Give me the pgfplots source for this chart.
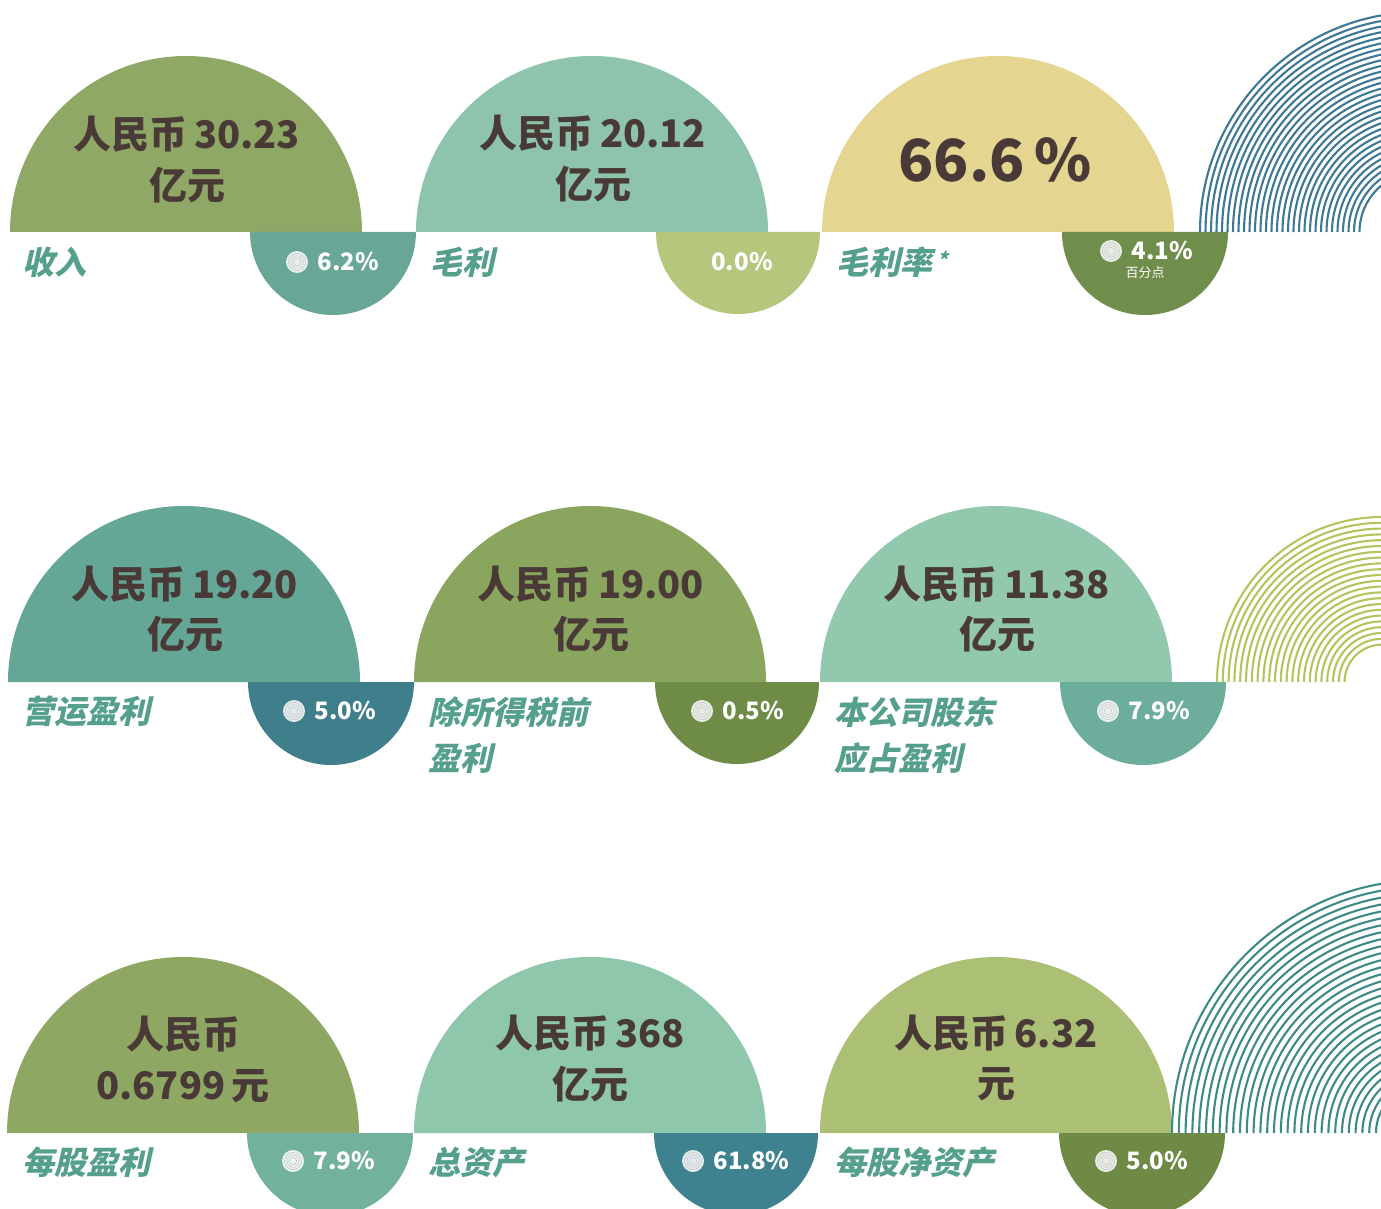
\documentclass[border=0pt]{standalone}
\usepackage{pgfplots}
\pgfplotsset{compat=1.18}
\usepackage{fontspec}
\newfontfamily\cjk{Noto Sans CJK SC}
\newfontfamily\cjkit{Noto Sans CJK SC}[FakeSlant=0.22]
\definecolor{txt}{HTML}{4A3A37}
\definecolor{lab}{HTML}{55A08C}
\definecolor{oliveA}{HTML}{8FA866}
\definecolor{mintA}{HTML}{8DC4AB}
\definecolor{yellowA}{HTML}{E4D690}
\definecolor{tealA}{HTML}{68A796}
\definecolor{lightoliveA}{HTML}{B5C67D}
\definecolor{darkoliveA}{HTML}{6F8D4B}
\definecolor{tealB}{HTML}{64A796}
\definecolor{oliveB}{HTML}{8AA65E}
\definecolor{mintB}{HTML}{91C8AE}
\definecolor{darktealB}{HTML}{3F7F8C}
\definecolor{darkoliveB}{HTML}{6E8C45}
\definecolor{tealsB}{HTML}{6DAD9C}
\definecolor{oliveC}{HTML}{8EA864}
\definecolor{mintC}{HTML}{8EC7AC}
\definecolor{ygC}{HTML}{ABC074}
\definecolor{tealC}{HTML}{72B19E}
\definecolor{darktealC}{HTML}{3E8290}
\definecolor{darkoliveC}{HTML}{6E8A44}
\definecolor{arcA}{HTML}{3D7896}
\definecolor{arcB}{HTML}{B5C45E}
\definecolor{arcC}{HTML}{3D8A86}
% half discs: centre x, baseline y, radius (px), colour
\newcommand\halfup[4]{\fill[#4] (axis cs:{#1-#3},#2) arc[start angle=180,end angle=0,radius={#3*0.5pt}] -- cycle;}
\newcommand\halfdown[4]{\fill[#4] (axis cs:{#1-#3},#2) arc[start angle=180,end angle=360,radius={#3*0.5pt}] -- cycle;}
\newcommand\icon[2]{\fill[white,opacity=0.85] (axis cs:#1,#2) circle[radius=5.5pt];
  \draw[black!20,line width=0.35pt] (axis cs:#1,#2) circle[radius=4.3pt] (axis cs:#1,#2) circle[radius=3.1pt] (axis cs:#1,#2) circle[radius=1.9pt];}
\newcommand\pct[3]{\icon{#1}{#2}\node[anchor=west,text=white,font=\cjk\bfseries\fontsize{12}{12}\selectfont,inner sep=0pt] at (axis cs:{#1+20},#2) {#3};}
\newcommand\bigtxt[3]{\node[text=txt,font=\cjk\bfseries\fontsize{19}{19}\selectfont,inner sep=0pt] at (axis cs:#1,#2) {#3};}
\newcommand\lbl[3]{\node[anchor=west,text=lab,font=\cjkit\bfseries\fontsize{16}{16}\selectfont,inner sep=0pt] at (axis cs:#1,#2) {#3};}
\begin{document}
\begin{tikzpicture}
\begin{axis}[
  scale only axis, width=690.5pt, height=604.5pt,
  xmin=0, xmax=1381, ymin=0, ymax=1209, y dir=reverse,
  hide axis, clip=true]
\fill[white] (axis cs:0,0) rectangle (axis cs:1381,1209);
% ---- row 1
\halfup{186}{232}{176}{oliveA}
\halfup{592}{232}{176}{mintA}
\halfup{998}{232}{176}{yellowA}
\halfdown{333}{232}{83}{tealA}
\halfdown{738}{232}{82}{lightoliveA}
\halfdown{1145}{232}{83}{darkoliveA}
\pgfplotsinvokeforeach{0,...,29}{\draw[arcA,line width=1.05pt] (axis cs:{1420-(220-5.5*#1)},232) arc[start angle=180,end angle=0,radius={(220-5.5*#1)*0.5pt}];}
\bigtxt{187}{134}{人民币\,30.23}
\bigtxt{187}{185}{亿元}
\bigtxt{593}{133}{人民币\,20.12}
\bigtxt{593}{184}{亿元}
\node[text=txt,font=\cjk\bfseries\fontsize{29}{29}\selectfont,inner sep=0pt] at (axis cs:995,160) {66.6\,\%};
\lbl{22}{262}{收入}
\lbl{430}{262}{毛利}
\lbl{836}{262}{毛利率\,\raisebox{0.2em}{\fontsize{10}{10}\selectfont *}}
\pct{297}{262}{6.2\%}
\node[text=white,font=\cjk\bfseries\fontsize{12}{12}\selectfont,inner sep=0pt] at (axis cs:742,262) {0.0\%};
\pct{1111}{251}{4.1\%}
\node[text=white,font=\cjk\fontsize{6.5}{6.5}\selectfont,inner sep=0pt] at (axis cs:1145,273) {百分点};
% ---- row 2
\halfup{184}{682}{176}{tealB}
\halfup{590}{682}{176}{oliveB}
\halfup{996}{682}{176}{mintB}
\halfdown{331}{682}{83}{darktealB}
\halfdown{737}{682}{82}{darkoliveB}
\halfdown{1143}{682}{83}{tealsB}
\pgfplotsinvokeforeach{0,...,22}{\draw[arcB,line width=1.05pt] (axis cs:{1382-(165-5.8*#1)},682) arc[start angle=180,end angle=0,radius={(165-5.8*#1)*0.5pt}];}
\bigtxt{185}{584}{人民币\,19.20}
\bigtxt{185}{634}{亿元}
\bigtxt{591}{584}{人民币\,19.00}
\bigtxt{591}{634}{亿元}
\bigtxt{997}{584}{人民币\,11.38}
\bigtxt{997}{634}{亿元}
\lbl{22}{712}{营运盈利}
\lbl{428}{712}{除所得税前}
\lbl{428}{758}{盈利}
\lbl{834}{712}{本公司股东}
\lbl{834}{758}{应占盈利}
\pct{294}{711}{5.0\%}
\pct{702}{711}{0.5\%}
\pct{1108}{711}{7.9\%}
% ---- row 3
\halfup{183}{1133}{176}{oliveC}
\halfup{590}{1133}{176}{mintC}
\halfup{996}{1133}{176}{ygC}
\halfdown{330}{1133}{83}{tealC}
\halfdown{736}{1133}{82}{darktealC}
\halfdown{1142}{1133}{83}{darkoliveC}
\pgfplotsinvokeforeach{0,...,30}{\draw[arcC,line width=1.05pt] (axis cs:{1425-(253-6.8*#1)},1133) arc[start angle=180,end angle=0,radius={(253-6.8*#1)*0.5pt}];}
\bigtxt{183}{1034}{人民币}
\bigtxt{183}{1086}{0.6799\,元}
\bigtxt{590}{1033}{人民币\,368}
\bigtxt{590}{1084}{亿元}
\bigtxt{996}{1033}{人民币\,6.32}
\bigtxt{996}{1084}{元}
\lbl{22}{1162}{每股盈利}
\lbl{428}{1162}{总资产}
\lbl{834}{1162}{每股净资产}
\pct{293}{1161}{7.9\%}
\pct{693}{1161}{61.8\%}
\pct{1106}{1161}{5.0\%}
\end{axis}
\end{tikzpicture}
\end{document}
